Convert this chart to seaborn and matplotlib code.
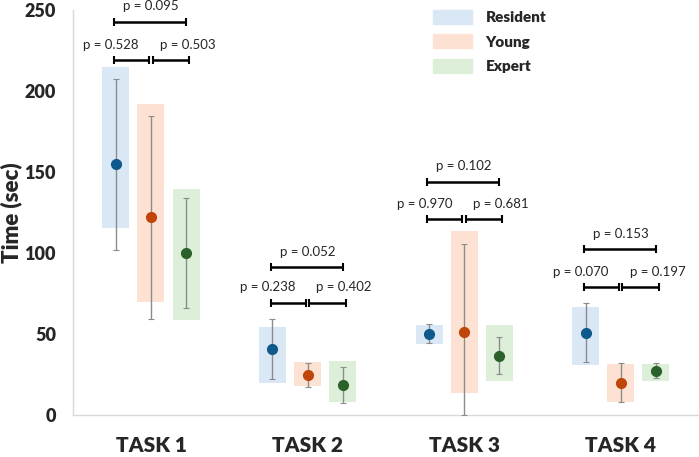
import pandas as pd
import matplotlib
matplotlib.use("Agg")
import matplotlib.pyplot as plt
import matplotlib.patches as mpatches
import seaborn as sns

tasks = ["TASK 1", "TASK 2", "TASK 3", "TASK 4"]
groups = ["Resident", "Young", "Expert"]

# mean time (sec)
resident_mean = [155, 40.7, 50.2, 50.8]
young_mean = [122, 24.7, 51.4, 19.8]
expert_mean = [100, 18.5, 36.6, 27.4]

# shaded boxes (low / high)
resident_box_lo = [115.4, 19.8, 44.0, 30.7]
resident_box_hi = [214.8, 54.5, 55.6, 66.7]
young_box_lo = [70.0, 18.1, 13.8, 7.8]
young_box_hi = [192.0, 32.5, 113.6, 31.5]
expert_box_lo = [58.8, 7.8, 20.8, 20.8]
expert_box_hi = [139.5, 33.3, 55.6, 31.5]

# whiskers (low / high)
resident_err_lo = [101.9, 22.2, 44.2, 32.5]
resident_err_hi = [207.4, 59.3, 56.4, 69.0]
young_err_lo = [59.3, 17.3, 0.0, 7.8]
young_err_hi = [184.8, 32.3, 105.6, 31.9]
expert_err_lo = [66.3, 7.6, 25.1, 22.6]
expert_err_hi = [133.7, 29.4, 48.0, 31.9]

# p-values
p_res_young = ["0.528", "0.238", "0.970", "0.070"]
p_young_exp = ["0.503", "0.402", "0.681", "0.197"]
p_res_exp = ["0.095", "0.052", "0.102", "0.153"]
bracket_low = [219.0, 69.3, 120.8, 78.8]
bracket_high = [242.8, 91.4, 144.0, 102.3]

box_colors = {"Resident": "#dae8f6", "Young": "#fde2d3", "Expert": "#ddefd8"}
point_colors = {"Resident": "#0e5a8a", "Young": "#bf450b", "Expert": "#2b622b"}

means = {"Resident": resident_mean, "Young": young_mean, "Expert": expert_mean}
box_lo = {"Resident": resident_box_lo, "Young": young_box_lo, "Expert": expert_box_lo}
box_hi = {"Resident": resident_box_hi, "Young": young_box_hi, "Expert": expert_box_hi}
err_lo = {"Resident": resident_err_lo, "Young": young_err_lo, "Expert": expert_err_lo}
err_hi = {"Resident": resident_err_hi, "Young": young_err_hi, "Expert": expert_err_hi}

rows = []
for g in groups:
    for i, t in enumerate(tasks):
        rows.append({"task": t, "group": g, "mean": means[g][i],
                     "box_h": box_hi[g][i] - box_lo[g][i]})
df = pd.DataFrame(rows)

sns.set_style("white")
plt.rcParams["font.family"] = ["Lato", "DejaVu Sans"]

fig, ax = plt.subplots(figsize=(6.99, 4.57), dpi=100)
fig.subplots_adjust(left=0.104, right=1.0, bottom=0.092, top=0.978)

# shaded boxes
sns.barplot(data=df, x="task", y="box_h", hue="group", order=tasks,
            hue_order=groups, palette=box_colors, width=0.672, gap=0.23,
            errorbar=None, saturation=1, legend=False, ax=ax)
centers = {}
for cont, g in zip(ax.containers, groups):
    centers[g] = []
    for patch, lo in zip(cont, box_lo[g]):
        patch.set_y(lo)
        patch.set_linewidth(0)
        centers[g].append(patch.get_x() + patch.get_width() / 2)

# whiskers
for g in groups:
    m = means[g]
    yerr = [[m[i] - err_lo[g][i] for i in range(4)],
            [err_hi[g][i] - m[i] for i in range(4)]]
    ax.errorbar(centers[g], m, yerr=yerr, fmt="none", ecolor="#8c8c8c",
                elinewidth=1, capsize=2, capthick=0.8, zorder=3)

# means
sns.pointplot(data=df, x="task", y="mean", hue="group", order=tasks,
              hue_order=groups, palette=point_colors, dodge=0.448,
              linestyle="none", errorbar=None, markers="o", markersize=6,
              legend=False, zorder=5, ax=ax)

# significance brackets
def bracket(x1, x2, y):
    ax.plot([x1, x2], [y, y], color="black", lw=1.8, marker="|",
            markersize=6, mew=1.5, solid_capstyle="butt", zorder=4,
            clip_on=False)

for i in range(4):
    xr, xy, xe = centers["Resident"][i], centers["Young"][i], centers["Expert"][i]
    yl, yh = bracket_low[i], bracket_high[i]
    bracket(xr - 0.01, xy - 0.011, yl)
    bracket(xy + 0.011, xe + 0.02, yl)
    bracket(xr - 0.01, xe, yh)
    ax.text(xr - 0.03, yl + 9.5, f"p = {p_res_young[i]}", ha="center",
            va="center", fontsize=9.5)
    ax.text(xe + 0.01, yl + 9.5, f"p = {p_young_exp[i]}", ha="center",
            va="center", fontsize=9.5)
    ax.text(xy, yh + 9.5, f"p = {p_res_exp[i]}", ha="center",
            va="center", fontsize=9.5)

ax.set_xlim(-0.5, 3.5)
ax.set_ylim(0, 250)
ax.set_yticks([0, 50, 100, 150, 200, 250])
ax.set_xlabel("")
ax.set_ylabel("Time (sec)", fontsize=16, fontweight="heavy")
ax.yaxis.set_label_coords(-0.081, 0.5)
ax.tick_params(axis="y", length=0, pad=12, labelsize=13)
ax.tick_params(axis="x", length=0, pad=15, labelsize=15)
for lab in ax.get_xticklabels() + ax.get_yticklabels():
    lab.set_fontweight("heavy")

sns.despine(ax=ax)
for s in ["left", "bottom"]:
    ax.spines[s].set_color("#d9d9d9")
    ax.spines[s].set_linewidth(1)

handles = [mpatches.Patch(color=box_colors[g], label=g) for g in groups]
ax.legend(handles=handles, loc="upper left", bbox_to_anchor=(0.575, 1.0),
          frameon=False, borderpad=0, borderaxespad=0, handlelength=2.55,
          handleheight=1.05, handletextpad=0.9, labelspacing=0.65,
          prop={"weight": "heavy", "size": 11})

fig.savefig("out.png", dpi=100)
